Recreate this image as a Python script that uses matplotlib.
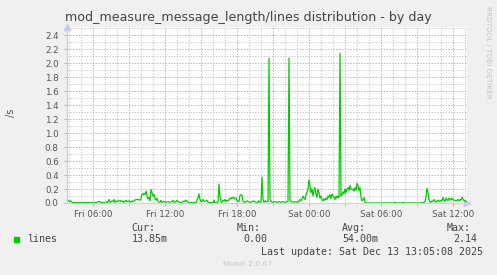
import matplotlib
matplotlib.use("Agg")
import matplotlib.pyplot as plt
from matplotlib.patches import Rectangle
import numpy as np

# minutes since Fri 00:00 (5 min samples) and lines/s values
minutes = [230, 235, 240, 245, 250, 255, 265, 380, 385, 395, 400, 425, 430, 435, 440, 445,
           455, 460, 465, 470, 480, 485, 495, 500, 510, 515, 525, 530, 540, 545, 555, 560,
           570, 575, 585, 595, 600, 605, 610, 615, 620, 625, 630, 635, 640, 645, 650, 655,
           660, 665, 670, 675, 680, 685, 695, 700, 705, 715, 725, 735, 745, 755, 760, 765,
           775, 780, 785, 795, 805, 815, 820, 825, 830, 835, 845, 875, 880, 885, 890, 895,
           900, 905, 910, 915, 925, 930, 935, 945, 960, 965, 970, 985, 990, 995, 1000, 1005,
           1010, 1015, 1020, 1025, 1030, 1035, 1045, 1050, 1055, 1060, 1065, 1070, 1075, 1080,
           1090, 1095, 1100, 1105, 1110, 1120, 1130, 1135, 1145, 1155, 1160, 1170, 1175, 1185,
           1190, 1195, 1200, 1205, 1210, 1215, 1220, 1225, 1235, 1240, 1245, 1250, 1260, 1270,
           1280, 1290, 1300, 1310, 1320, 1335, 1340, 1345, 1350, 1365, 1375, 1385, 1395, 1400,
           1405, 1410, 1415, 1420, 1425, 1430, 1435, 1440, 1445, 1450, 1455, 1460, 1465, 1470,
           1475, 1480, 1485, 1490, 1495, 1500, 1505, 1510, 1515, 1520, 1525, 1530, 1535, 1540,
           1545, 1550, 1555, 1560, 1565, 1570, 1575, 1580, 1585, 1590, 1595, 1600, 1605, 1610,
           1615, 1620, 1625, 1630, 1635, 1640, 1645, 1650, 1655, 1660, 1665, 1670, 1675, 1680,
           1685, 1690, 1695, 1700, 1705, 1710, 1715, 1720, 1725, 1865, 1870, 1875, 1905, 1910,
           1915, 2000, 2005, 2010, 2020, 2025, 2030, 2035, 2040, 2045, 2050, 2055, 2060, 2065,
           2070, 2075, 2080, 2085, 2090, 2100, 2105, 2110, 2115, 2120, 2125, 2130, 2135, 2140,
           2145, 2150, 2155, 2160, 2165, 2170, 2175, 2180, 2185, 2190, 2195, 2200, 2205, 2210,
           2215, 2220, 2225]
lines = [0.0, 0.04, 0.03, 0.02, 0.03, 0.01, 0.005, 0.005, 0.02, 0.02, 0.005, 0.005, 0.02, 0.01, 0.05, 0.01,
         0.03, 0.02, 0.05, 0.01, 0.03, 0.02, 0.04, 0.02, 0.03, 0.01, 0.04, 0.02, 0.03, 0.01, 0.03, 0.02,
         0.04, 0.05, 0.05, 0.04, 0.06, 0.13, 0.12, 0.14, 0.12, 0.17, 0.1, 0.06, 0.08, 0.03, 0.19, 0.15,
         0.1, 0.12, 0.06, 0.04, 0.07, 0.02, 0.01, 0.04, 0.01, 0.02, 0.01, 0.02, 0.01, 0.02, 0.04, 0.01,
         0.02, 0.04, 0.02, 0.01, 0.01, 0.03, 0.02, 0.04, 0.03, 0.01, 0.005, 0.005, 0.05, 0.07, 0.13, 0.05,
         0.02, 0.03, 0.05, 0.02, 0.03, 0.04, 0.01, 0.005, 0.005, 0.04, 0.005, 0.01, 0.27, 0.1, 0.02, 0.01,
         0.04, 0.03, 0.05, 0.02, 0.04, 0.03, 0.07, 0.06, 0.08, 0.07, 0.08, 0.06, 0.07, 0.03,
         0.02, 0.11, 0.12, 0.11, 0.02, 0.01, 0.03, 0.02, 0.01, 0.02, 0.03, 0.02, 0.01, 0.01,
         0.03, 0.01, 0.02, 0.37, 0.05, 0.01, 0.03, 0.02, 0.02, 2.07, 0.05, 0.02, 0.01, 0.02,
         0.01, 0.02, 0.01, 0.02, 0.01, 0.02, 2.07, 0.05, 0.02, 0.01, 0.02, 0.01, 0.05, 0.03,
         0.06, 0.1, 0.07, 0.05, 0.12, 0.15, 0.2, 0.33, 0.25, 0.15, 0.2, 0.1, 0.18, 0.22,
         0.12, 0.08, 0.2, 0.15, 0.07, 0.1, 0.05, 0.03, 0.06, 0.04, 0.07, 0.05, 0.1, 0.08,
         0.12, 0.06, 0.13, 0.1, 0.08, 0.05, 0.1, 0.07, 0.1, 0.08, 2.14, 0.1, 0.12, 0.16,
         0.13, 0.2, 0.15, 0.2, 0.22, 0.18, 0.25, 0.2, 0.19, 0.2, 0.17, 0.22, 0.18, 0.28,
         0.25, 0.18, 0.22, 0.08, 0.03, 0.05, 0.08, 0.01, 0.0, 0.0, 0.01, 0.0, 0.0, 0.01,
         0.0, 0.0, 0.01, 0.0, 0.02, 0.1, 0.21, 0.15, 0.05, 0.02, 0.01, 0.03, 0.02, 0.05,
         0.03, 0.01, 0.03, 0.04, 0.02, 0.04, 0.03, 0.08, 0.04, 0.02, 0.07, 0.05, 0.03, 0.07,
         0.06, 0.04, 0.07, 0.05, 0.04, 0.04, 0.03, 0.04, 0.05, 0.03, 0.05, 0.04, 0.08, 0.06,
         0.03, 0.04, 0.02]

tick_hours = [6, 12, 18, 24, 30, 36]
tick_labels = ["Fri 06:00", "Fri 12:00", "Fri 18:00", "Sat 00:00", "Sat 06:00", "Sat 12:00"]
stat_names = ["Cur:", "Min:", "Avg:", "Max:"]
stat_values = ["13.85m", "0.00", "54.00m", "2.14"]

W, H = 497, 275
def fx(x):
    return x / W
def fy(y):
    return 1 - y / H

fig = plt.figure(figsize=(4.97, 2.75), dpi=100, facecolor="#F0F0F0")
ax = fig.add_axes([fx(67), fy(203), fx(400), 176 / H])
ax.set_facecolor("white")

hours = np.array(minutes) / 60.0
ax.set_xlim(230 / 60.0, 2230 / 60.0)
ax.set_ylim(0, 2.515)

minor_c = "#CFCFCF"
major_c = "#EBA3A3"
dots = (0, (1.4, 1.4))
# grid
for h in np.arange(4, 38, 1):
    if h % 3 != 0:
        ax.axvline(h, color=minor_c, lw=0.72, ls=dots, zorder=1)
for v in np.arange(0.1, 2.6, 0.2):
    ax.axhline(v, color=minor_c, lw=0.72, ls=dots, zorder=1)
for h in np.arange(6, 38, 3):
    ax.axvline(h, color=major_c, lw=0.72, ls=dots, zorder=2)
for v in np.arange(0.2, 2.5, 0.2):
    ax.axhline(v, color=major_c, lw=0.72, ls=dots, zorder=2)

ax.plot(hours, lines, color="#00CC00", lw=0.9, zorder=2.4)

ax.set_yticks(np.arange(0, 2.41, 0.2))
ax.set_yticklabels(["%.1f" % v for v in np.arange(0, 2.41, 0.2)])
ax.set_xticks(tick_hours)
ax.set_xticklabels(tick_labels)
ax.set_xticks(np.arange(6, 38, 3), minor=True)
ax.tick_params(axis="y", length=2, color=major_c, pad=4, labelsize=6.3, labelcolor="#555555")
ax.tick_params(axis="x", which="major", length=2, color=major_c, pad=3, labelsize=6.3, labelcolor="#555555")
ax.tick_params(axis="x", which="minor", length=2, color=major_c)

for s in ["top", "right"]:
    ax.spines[s].set_visible(False)
ax.spines["left"].set_color("#C8C8F0")
ax.spines["bottom"].set_color("#C8DCC8")
ax.spines["left"].set_linewidth(0.8)
ax.spines["bottom"].set_linewidth(0.8)
ax.plot([1.0], [0.0], marker=">", ms=4, color="#C8C8F0", transform=ax.transAxes, clip_on=False)
ax.plot([0.0], [1.0], marker="^", ms=4, color="#C8C8F0", transform=ax.transAxes, clip_on=False)

fig.text(fx(248.5), fy(17), "mod_measure_message_length/lines distribution - by day",
         ha="center", va="center", fontsize=9.1, color="#444444")
fig.text(fx(11), fy(113), "/s", rotation=90, ha="center", va="center", fontsize=7, color="#555555")
fig.text(fx(488), fy(6), "RRDTOOL / TOBI OETIKER", rotation=270, ha="center", va="top",
         fontsize=5.2, color="#C4C4C4")

mono = dict(family="DejaVu Sans Mono", fontsize=7.2, color="#444444", va="center", ha="left")
fig.patches.append(Rectangle((fx(14), fy(242)), fx(5.3), 5.3 / H, transform=fig.transFigure,
                             color="#00CC00", figure=fig))
fig.text(fx(27), fy(239.5), "lines", **mono)
name_x = [131.7, 236.7, 342, 446.7]
val_x = [131.7, 243.3, 342, 453.3]
for i in range(4):
    fig.text(fx(name_x[i]), fy(227.7), stat_names[i], **mono)
    fig.text(fx(val_x[i]), fy(239.5), stat_values[i], **mono)
fig.text(fx(261.3), fy(251.7), "Last update: Sat Dec 13 13:05:08 2025", **mono)
fig.text(fx(223.3), fy(264), "Munin 2.0.67", fontsize=5.4, color="#C8C8C8", va="center", ha="left")

fig.savefig("out.png", dpi=100, facecolor=fig.get_facecolor())
